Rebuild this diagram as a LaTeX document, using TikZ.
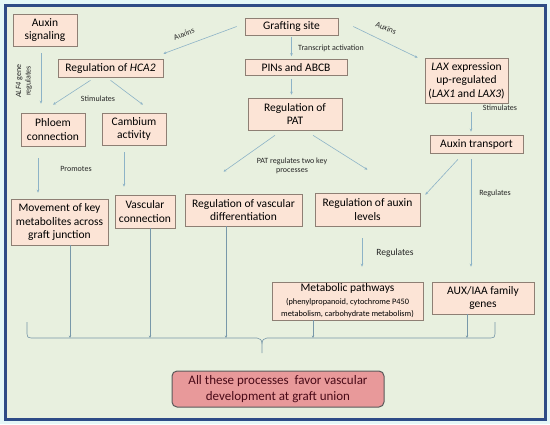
\documentclass[tikz,border=0pt]{standalone}
\usepackage{fontspec}
\setmainfont{Carlito}
\usetikzlibrary{arrows.meta,calc}
\definecolor{boxfill}{HTML}{FCE4D6}
\definecolor{boxline}{HTML}{8E7F74}
\definecolor{arrowc}{HTML}{8DB3C7}
\definecolor{bgin}{HTML}{E8F0DF}
\definecolor{bgout}{HTML}{E4F7F7}
\definecolor{framec}{HTML}{2E4B86}
\definecolor{finfill}{HTML}{E8999A}
\definecolor{finline}{HTML}{5A5A5A}
\definecolor{fintext}{HTML}{4A0A18}
\begin{document}
\begin{tikzpicture}[x=1pt,y=-1pt,
  box/.style={draw=boxline, fill=boxfill, line width=0.6pt, inner sep=1pt, align=center,
    font=\fontsize{11.5}{13.5}\selectfont},
  lbl/.style={font=\fontsize{8}{9.5}\selectfont, inner sep=0pt, align=center, text=black!85},
  arr/.style={draw=arrowc, line width=0.6pt, -{Stealth[length=3pt,width=2.6pt]}},
  arrb/.style={draw=arrowc!85!black, line width=0.5pt, -{Stealth[length=2.5pt,width=2.2pt]}},
  bracec/.style={draw=arrowc!85!black, line width=0.6pt}]
\useasboundingbox (0,0) rectangle (550,424);
\fill[bgout] (0,0) rectangle (550,424);
\draw[framec, line width=3pt, fill=bgin] (5.5,5.5) rectangle (545,419);

% boxes
\node[box, minimum width=64, minimum height=32] (sig) at (45,30) {Auxin\\signaling};
\node[box, minimum width=93, minimum height=17] (graft) at (291.5,26.5) {Grafting site};
\node[box, minimum width=105, minimum height=18] (hca) at (110.5,68) {Regulation of \textit{HCA2}};
\node[box, minimum width=102, minimum height=16] (pins) at (296,67.5) {PINs and ABCB};
\node[box, minimum width=94, minimum height=32] (pat) at (295,114) {Regulation of\\PAT};
\node[box, minimum width=83, minimum height=45] (lax) at (466.5,80.5) {\textit{LAX} expression\\up-regulated\\(\textit{LAX1} and \textit{LAX3})};
\node[box, minimum width=64, minimum height=33] (phl) at (53,129.5) {Phloem\\connection};
\node[box, minimum width=64, minimum height=32] (cam) at (134,129) {Cambium\\activity};
\node[box, minimum width=93, minimum height=18] (atr) at (476.5,144) {Auxin transport};
\node[box, minimum width=97, minimum height=46] (mov) at (59.5,222) {Movement of key\\metabolites across\\graft junction};
\node[box, minimum width=60, minimum height=33] (vcon) at (145,211.5) {Vascular\\connection};
\node[box, minimum width=117, minimum height=32] (vdiff) at (243.5,210) {Regulation of vascular\\differentiation};
\node[box, minimum width=105, minimum height=33] (alev) at (367.5,209.5) {Regulation of auxin\\levels};
\node[box, minimum width=151, minimum height=38] (met) at (347.5,301) {Metabolic pathways\\[-1pt]{\fontsize{8.3}{10.5}\selectfont (phenylpropanoid, cytochrome P450}\\[-1pt]{\fontsize{8.3}{10.5}\selectfont metabolism, carbohydrate metabolism)}};
\node[box, minimum width=102, minimum height=32] (aux) at (483,298) {AUX/IAA family\\genes};
\node[draw=finline, fill=finfill, line width=1pt, rounded corners=5pt, minimum width=212, minimum height=36,
  align=center, inner sep=1pt, text=fintext, font=\fontsize{13}{15.5}\selectfont] (fin) at (278,389)
  {All these processes\ \ favor vascular\\development at graft union};

% arrows
\draw[arr] ([xshift=-8pt]graft.west) -- ([yshift=5pt]hca.north east);
\draw[arr] ([xshift=15pt]graft.east) -- ([xshift=-7pt]lax.north west);
\draw[arr, shorten <=2pt, shorten >=3pt] (graft.south) -- (graft.south |- pins.north);
\draw[arr, shorten <=3pt, shorten >=3pt] (graft.south |- pins.south) -- (graft.south |- pat.north);
\coordinate (s1) at ([xshift=-4pt]sig.south);
\draw[arr, shorten <=7pt, shorten >=9pt] (s1) -- (s1 |- phl.north);
\draw[arr] ([xshift=-20pt,yshift=-3pt]hca.south) -- ([yshift=8pt]phl.north);
\draw[arr] ([yshift=-3pt]hca.south) -- ([xshift=9pt,yshift=8pt]cam.north);
\coordinate (p1) at ([xshift=-15pt]phl.south);
\draw[arr, shorten <=12pt, shorten >=6pt] (p1) -- (p1 |- mov.north);
\coordinate (c1) at ([xshift=-10pt]cam.south);
\draw[arr, shorten <=7pt, shorten >=8pt] (c1) -- (c1 |- vcon.north);
\draw[arr] ([xshift=-20pt,yshift=-5pt]pat.south) -- ([xshift=-20pt,yshift=22pt]vdiff.north);
\draw[arr] ([xshift=18pt,yshift=-5pt]pat.south) -- ([yshift=23pt]alev.north);
\coordinate (l1) at ([xshift=4.5pt]lax.south);
\draw[arr, shorten <=9pt, shorten >=3pt] (l1) -- (l1 |- atr.north);
\draw[arr] ([xshift=-18.5pt,yshift=-6pt]atr.south) -- ([xshift=5pt,yshift=-2pt]alev.north east);
\coordinate (a1) at ([xshift=-5.5pt]atr.south);
\draw[arr, shorten <=6pt, shorten >=15pt] (a1) -- (a1 |- aux.north);
\coordinate (r1) at ([xshift=-5.5pt]alev.south);
\draw[arr, shorten <=12pt, shorten >=15pt] (r1) -- (r1 |- met.north);

% labels
\node[lbl, rotate=21] (lauxl) at (184,34) {Auxins};
\node[lbl, rotate=-22] (lauxr) at (386,28) {Auxins};
\node[lbl, anchor=west] (ltr) at (298,48) {Transcript activation};
\node[lbl, rotate=90] (lalf) at (24,81) {\textit{ALF4} gene\\regulates};
\node[lbl] (lst1) at (98,99) {Stimulates};
\node[lbl] (lpro) at (76,169) {Promotes};
\node[lbl] (lpat) at (292,166) {PAT regulates two key\\processes};
\node[lbl] (lst2) at (500,108) {Stimulates};
\node[lbl] (lreg1) at (495,193) {Regulates};
\node[lbl, font=\fontsize{9.5}{11}\selectfont] (lreg2) at (395,253) {Regulates};

% brace
\coordinate (brL) at (27,338);
\draw[bracec] (27,322) -- (27,334) .. controls (27,337) and (28,338) .. (31,338) -- (257,338)
  .. controls (260,338) and (262,340) .. (262,344) -- (262,353);
\draw[bracec] (262,344) .. controls (262,340) and (264,338) .. (267,338) -- (491,338)
  .. controls (494,338) and (495,337) .. (495,334) -- (495,322);

% lines into brace
\coordinate (b1) at ([xshift=10.5pt]mov.south);
\draw[arrb] (b1) -- (b1 |- brL);
\coordinate (b2) at ([xshift=5pt]vcon.south);
\draw[arrb] (b2) -- (b2 |- brL);
\coordinate (b3) at ([xshift=-17.5pt]vdiff.south);
\draw[arrb] (b3) -- (b3 |- brL);
\coordinate (b4) at ([xshift=-34.5pt]met.south);
\draw[arrb] (b4) -- (b4 |- brL);
\coordinate (b5) at ([xshift=-16pt]aux.south);
\draw[arrb] (b5) -- (b5 |- brL);
\end{tikzpicture}
\end{document}
